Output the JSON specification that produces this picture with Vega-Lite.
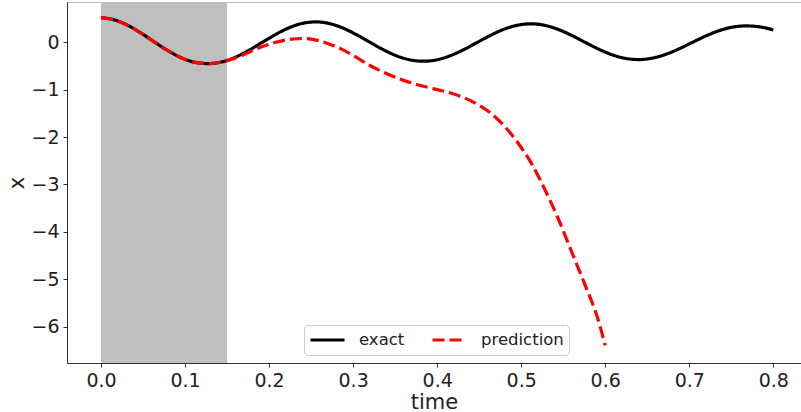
{
  "$schema": "https://vega.github.io/schema/vega-lite/v6.json",
  "width": 734,
  "height": 361,
  "autosize": "none",
  "padding": {"left": 67, "top": 2, "right": 0, "bottom": 49},
  "background": "white",
  "config": {
    "font": "DejaVu Sans",
    "view": {"stroke": "#bbbbbb", "strokeWidth": 1},
    "axis": {
      "grid": false,
      "domainColor": "#333333",
      "domainWidth": 1,
      "tickColor": "#333333",
      "tickSize": 4,
      "labelFont": "DejaVu Sans",
      "labelFontSize": 19,
      "labelColor": "#222222",
      "labelPadding": 4,
      "titleFont": "DejaVu Sans",
      "titleFontSize": 21,
      "titleFontWeight": "normal",
      "titleColor": "#222222"
    },
    "legend": {
      "labelFont": "DejaVu Sans",
      "labelFontSize": 16.5,
      "labelColor": "#222222"
    }
  },
  "datasets": {
    "band": [{"start": 0, "end": 0.15}],
    "curves": [
      {"t": 0.000, "x": 0.52, "series": "exact"},
      {"t": 0.016, "x": 0.472, "series": "exact"},
      {"t": 0.032, "x": 0.355, "series": "exact"},
      {"t": 0.048, "x": 0.189, "series": "exact"},
      {"t": 0.064, "x": 0.0, "series": "exact"},
      {"t": 0.080, "x": -0.182, "series": "exact"},
      {"t": 0.096, "x": -0.331, "series": "exact"},
      {"t": 0.112, "x": -0.424, "series": "exact"},
      {"t": 0.128, "x": -0.45, "series": "exact"},
      {"t": 0.144, "x": -0.413, "series": "exact"},
      {"t": 0.160, "x": -0.315, "series": "exact"},
      {"t": 0.176, "x": -0.169, "series": "exact"},
      {"t": 0.192, "x": 0.0, "series": "exact"},
      {"t": 0.208, "x": 0.167, "series": "exact"},
      {"t": 0.224, "x": 0.308, "series": "exact"},
      {"t": 0.240, "x": 0.40, "series": "exact"},
      {"t": 0.256, "x": 0.43, "series": "exact"},
      {"t": 0.272, "x": 0.394, "series": "exact"},
      {"t": 0.288, "x": 0.299, "series": "exact"},
      {"t": 0.304, "x": 0.16, "series": "exact"},
      {"t": 0.320, "x": 0.0, "series": "exact"},
      {"t": 0.336, "x": -0.157, "series": "exact"},
      {"t": 0.352, "x": -0.288, "series": "exact"},
      {"t": 0.368, "x": -0.373, "series": "exact"},
      {"t": 0.384, "x": -0.40, "series": "exact"},
      {"t": 0.400, "x": -0.369, "series": "exact"},
      {"t": 0.416, "x": -0.281, "series": "exact"},
      {"t": 0.432, "x": -0.152, "series": "exact"},
      {"t": 0.448, "x": 0.0, "series": "exact"},
      {"t": 0.464, "x": 0.151, "series": "exact"},
      {"t": 0.480, "x": 0.278, "series": "exact"},
      {"t": 0.496, "x": 0.361, "series": "exact"},
      {"t": 0.512, "x": 0.39, "series": "exact"},
      {"t": 0.528, "x": 0.357, "series": "exact"},
      {"t": 0.544, "x": 0.271, "series": "exact"},
      {"t": 0.560, "x": 0.146, "series": "exact"},
      {"t": 0.576, "x": 0.0, "series": "exact"},
      {"t": 0.592, "x": -0.143, "series": "exact"},
      {"t": 0.608, "x": -0.262, "series": "exact"},
      {"t": 0.624, "x": -0.34, "series": "exact"},
      {"t": 0.640, "x": -0.365, "series": "exact"},
      {"t": 0.656, "x": -0.335, "series": "exact"},
      {"t": 0.672, "x": -0.255, "series": "exact"},
      {"t": 0.688, "x": -0.137, "series": "exact"},
      {"t": 0.704, "x": 0.0, "series": "exact"},
      {"t": 0.720, "x": 0.135, "series": "exact"},
      {"t": 0.736, "x": 0.247, "series": "exact"},
      {"t": 0.752, "x": 0.321, "series": "exact"},
      {"t": 0.768, "x": 0.345, "series": "exact"},
      {"t": 0.784, "x": 0.325, "series": "exact"},
      {"t": 0.800, "x": 0.26, "series": "exact"},
      {"t": 0.000, "x": 0.52, "series": "prediction"},
      {"t": 0.016, "x": 0.472, "series": "prediction"},
      {"t": 0.032, "x": 0.355, "series": "prediction"},
      {"t": 0.048, "x": 0.189, "series": "prediction"},
      {"t": 0.064, "x": 0.0, "series": "prediction"},
      {"t": 0.080, "x": -0.182, "series": "prediction"},
      {"t": 0.096, "x": -0.331, "series": "prediction"},
      {"t": 0.112, "x": -0.424, "series": "prediction"},
      {"t": 0.128, "x": -0.45, "series": "prediction"},
      {"t": 0.144, "x": -0.415, "series": "prediction"},
      {"t": 0.160, "x": -0.33, "series": "prediction"},
      {"t": 0.176, "x": -0.21, "series": "prediction"},
      {"t": 0.192, "x": -0.09, "series": "prediction"},
      {"t": 0.208, "x": 0.0, "series": "prediction"},
      {"t": 0.224, "x": 0.06, "series": "prediction"},
      {"t": 0.240, "x": 0.08, "series": "prediction"},
      {"t": 0.256, "x": 0.045, "series": "prediction"},
      {"t": 0.272, "x": -0.04, "series": "prediction"},
      {"t": 0.288, "x": -0.16, "series": "prediction"},
      {"t": 0.304, "x": -0.32, "series": "prediction"},
      {"t": 0.320, "x": -0.49, "series": "prediction"},
      {"t": 0.336, "x": -0.63, "series": "prediction"},
      {"t": 0.352, "x": -0.75, "series": "prediction"},
      {"t": 0.368, "x": -0.85, "series": "prediction"},
      {"t": 0.384, "x": -0.93, "series": "prediction"},
      {"t": 0.400, "x": -1.0, "series": "prediction"},
      {"t": 0.416, "x": -1.07, "series": "prediction"},
      {"t": 0.432, "x": -1.17, "series": "prediction"},
      {"t": 0.448, "x": -1.31, "series": "prediction"},
      {"t": 0.464, "x": -1.5, "series": "prediction"},
      {"t": 0.480, "x": -1.77, "series": "prediction"},
      {"t": 0.496, "x": -2.12, "series": "prediction"},
      {"t": 0.512, "x": -2.55, "series": "prediction"},
      {"t": 0.528, "x": -3.1, "series": "prediction"},
      {"t": 0.544, "x": -3.72, "series": "prediction"},
      {"t": 0.560, "x": -4.42, "series": "prediction"},
      {"t": 0.576, "x": -5.12, "series": "prediction"},
      {"t": 0.592, "x": -5.88, "series": "prediction"},
      {"t": 0.600, "x": -6.4, "series": "prediction"}
    ]
  },
  "layer": [
    {
      "data": {"name": "band"},
      "mark": {"type": "rect", "color": "#bfbfbf", "opacity": 1},
      "encoding": {
        "x": {"field": "start", "type": "quantitative", "scale": {"domain": [-0.0405, 0.833], "nice": false, "zero": false}},
        "x2": {"field": "end"}
      }
    },
    {
      "data": {"name": "curves"},
      "mark": {"type": "line", "strokeWidth": 3.2, "interpolate": "monotone", "clip": true},
      "encoding": {
        "x": {
          "field": "t", "type": "quantitative",
          "scale": {"domain": [-0.0405, 0.833], "nice": false, "zero": false},
          "axis": {"title": "time", "values": [0, 0.1, 0.2, 0.3, 0.4, 0.5, 0.6, 0.7, 0.8], "format": ".1f", "titlePadding": 1}
        },
        "y": {
          "field": "x", "type": "quantitative",
          "scale": {"domain": [-6.77, 0.85], "nice": false, "zero": false},
          "axis": {"title": "x", "values": [-6, -5, -4, -3, -2, -1, 0], "labelExpr": "replace(format(datum.value, 'd'), '-', '\u2212')", "titlePadding": 3}
        },
        "color": {
          "field": "series", "type": "nominal",
          "scale": {"domain": ["exact", "prediction"], "range": ["#000000", "#ff0000"]},
          "legend": {
            "title": null,
            "orient": "none",
            "direction": "horizontal",
            "legendX": 237,
            "legendY": 323,
            "symbolType": "stroke",
            "symbolSize": 1156,
            "symbolStrokeWidth": 3,
            "clipHeight": 20,
            "labelOffset": 13,
            "columnPadding": 26,
            "padding": 5,
            "fillColor": "white",
            "strokeColor": "#cccccc",
            "cornerRadius": 4
          }
        },
        "strokeDash": {
          "field": "series", "type": "nominal",
          "scale": {"domain": ["exact", "prediction"], "range": [[1, 0], [12, 5]]},
          "legend": null
        }
      }
    }
  ]
}
